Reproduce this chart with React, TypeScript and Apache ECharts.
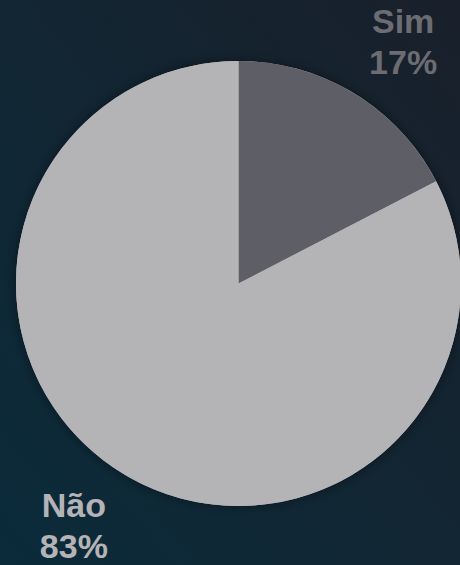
import React, { useEffect, useRef } from "react";
import * as echarts from "echarts";

const categories = ["Sim", "Não"];
const values = [17.4, 82.6];
const sliceColors = ["#5e5e66", "#b4b4b7"];
const labelColors = ["#6c6c73", "#b4b4b7"];

export default function App() {
  const ref = useRef<HTMLDivElement>(null);
  useEffect(() => {
    document.body.style.margin = "0";
    const chart = echarts.init(ref.current!, null, { renderer: "svg" });
    const total = values.reduce((a, b) => a + b, 0);
    const cx = 238.5, cy = 283.5, r = 222.5;
    chart.setOption({
      animation: false,
      backgroundColor: new echarts.graphic.LinearGradient(0, 1, 1, 0, [
        { offset: 0, color: "#0b2b3a" },
        { offset: 1, color: "#19202b" },
      ]),
      series: [
        {
          type: "pie",
          silent: true,
          z: 1,
          center: [cx, cy],
          radius: r,
          data: [{ value: total, name: "" }],
          itemStyle: { color: "#b4b4b7", shadowBlur: 12, shadowColor: "rgba(0,0,0,0.45)" },
          label: { show: false },
          labelLine: { show: false },
        },
        {
          type: "pie",
          z: 2,
          center: [cx, cy],
          radius: r,
          startAngle: 90,
          clockwise: true,
          data: categories.map((c, i) => ({
            name: c,
            value: values[i],
            itemStyle: { color: sliceColors[i] },
            label: { color: labelColors[i] },
          })),
          label: {
            show: true,
            position: "outside",
            formatter: (p: any) => `${p.name}\n${Math.round((p.value / total) * 100)}%`,
            fontFamily: "Liberation Sans, Arial, sans-serif",
            fontWeight: "bold",
            fontSize: 34,
            lineHeight: 41,
            align: "center",
            overflow: "none",
            width: 120,
          },
          labelLine: { show: false },
          labelLayout: (params: any) => {
            const idx = params.dataIndex;
            let before = 0;
            for (let k = 0; k < idx; k++) before += values[k];
            const mid = ((before + values[idx] / 2) / total) * 2 * Math.PI + 0.05;
            const R = 293;
            return {
              x: cx + R * Math.sin(mid),
              y: cy - R * Math.cos(mid),
              align: "center",
              verticalAlign: "middle",
            };
          },
        },
      ],
    });
    return () => chart.dispose();
  }, []);
  return <div ref={ref} style={{ width: 460, height: 565 }} />;
}
